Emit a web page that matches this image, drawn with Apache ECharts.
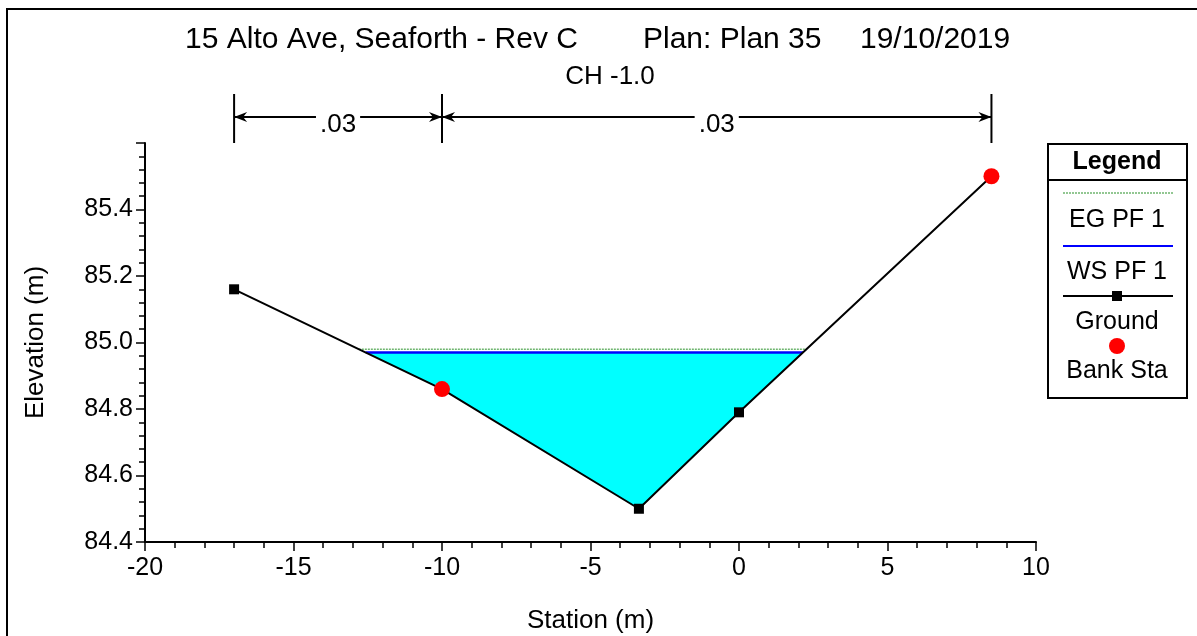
<!DOCTYPE html>
<html>
<head>
<meta charset="utf-8">
<script src="https://cdn.jsdelivr.net/npm/echarts@6/dist/echarts.min.js"></script>
<style>
  html, body { margin: 0; padding: 0; background: #fff; }
  #chart { width: 1197px; height: 636px; }
</style>
</head>
<body>
<div id="chart"></div>
<script>
// Cross section CH -1.0: ground survey points (station m, elevation m)
const groundStation = [-17, -10, -3.37, 0, 8.5];
const groundElev = [85.16, 84.86, 84.50, 84.79, 85.50];
// Bank stations
const bankStation = [-10, 8.5];
const bankElev = [84.86, 85.50];
// Profile PF 1 results
const wsElev = 84.97;
const egElev = 84.98;
// Manning's n regions
const nBreaks = [-17, -10, 8.5];
const nValues = ['.03', '.03'];

const FONT = "'Liberation Sans', Arial, sans-serif";

// stations where the ground crosses a given level
function crossings(level) {
  const out = [];
  for (let i = 0; i < groundStation.length - 1; i++) {
    const x0 = groundStation[i], y0 = groundElev[i];
    const x1 = groundStation[i + 1], y1 = groundElev[i + 1];
    if ((y0 - level) * (y1 - level) < 0) {
      const t = (level - y0) / (y1 - y0);
      out.push(x0 + t * (x1 - x0));
    }
  }
  return out;
}

const wsX = crossings(wsElev);
const egX = crossings(egElev);
const wsL = wsX[0], wsR = wsX[wsX.length - 1];

// wetted polygon: water surface down to the ground
const waterPoly = [[wsL, wsElev]];
groundStation.forEach((s, i) => {
  if (s > wsL && s < wsR) waterPoly.push([s, groundElev[i]]);
});
waterPoly.push([wsR, wsElev]);

const groundData = groundStation.map((s, i) => [s, groundElev[i]]);
const bankData = bankStation.map((s, i) => [s, bankElev[i]]);
const nData = nValues.map((v, i) => [nBreaks[i], nBreaks[i + 1], 85.6]);

const chart = echarts.init(document.getElementById('chart'), null, { renderer: 'canvas' });

const option = {
  backgroundColor: '#ffffff',
  animation: false,
  textStyle: { fontFamily: FONT, color: '#000' },
  grid: { left: 145, top: 143, width: 891, height: 399, containLabel: false, outerBoundsMode: 'none' },
  xAxis: {
    type: 'value', min: -20, max: 10, interval: 5,
    name: 'Station (m)', nameLocation: 'middle', nameGap: 66,
    nameTextStyle: { fontSize: 26, color: '#000', fontFamily: FONT },
    axisLine: { onZero: false, lineStyle: { color: '#000', width: 2 } },
    axisTick: { show: true, inside: false, length: 9, lineStyle: { color: '#000', width: 1.5 } },
    minorTick: { show: true, splitNumber: 5, length: 6, lineStyle: { color: '#000', width: 1.5 } },
    axisLabel: { fontSize: 25, color: '#000', margin: 14, fontFamily: FONT },
    splitLine: { show: false }
  },
  yAxis: {
    type: 'value', min: 84.4, max: 85.6, interval: 0.2,
    name: 'Elevation (m)', nameLocation: 'middle', nameGap: 96, nameRotate: 90,
    nameTextStyle: { fontSize: 26, color: '#000', fontFamily: FONT },
    axisLine: { onZero: false, lineStyle: { color: '#000', width: 2 } },
    axisTick: { show: true, inside: false, length: 9, lineStyle: { color: '#000', width: 1.5 } },
    minorTick: { show: true, splitNumber: 5, length: 6, lineStyle: { color: '#000', width: 1.5 } },
    axisLabel: {
      fontSize: 25, color: '#000', margin: 12, fontFamily: FONT,
      showMaxLabel: false,
      formatter: v => v.toFixed(1)
    },
    splitLine: { show: false }
  },
  series: [
    {
      name: 'Water', type: 'custom', z: 1, silent: true,
      data: [[wsL, wsElev]],
      renderItem: (params, api) => ({
        type: 'polygon',
        shape: { points: waterPoly.map(p => api.coord(p)) },
        style: { fill: '#00FFFF', stroke: null }
      })
    },
    {
      name: 'EG PF 1', type: 'line', z: 3, symbol: 'none', silent: true,
      data: [[egX[0], egElev], [egX[egX.length - 1], egElev]],
      lineStyle: { color: '#6fb56f', width: 1.5, type: [2, 1] }
    },
    {
      name: 'WS PF 1', type: 'line', z: 4, symbol: 'none', silent: true,
      data: [[wsL, wsElev], [wsR, wsElev]],
      lineStyle: { color: '#0000FF', width: 2.5 }
    },
    {
      name: 'Ground', type: 'line', z: 5, silent: true,
      data: groundData,
      symbol: 'rect', symbolSize: 10,
      itemStyle: { color: '#000' },
      lineStyle: { color: '#000', width: 2 }
    },
    {
      name: 'Bank Sta', type: 'scatter', z: 6, silent: true,
      data: bankData,
      symbol: 'circle', symbolSize: 16,
      itemStyle: { color: '#FF0000', opacity: 1 }
    },
    {
      name: 'Manning n', type: 'custom', z: 7, silent: true, clip: false,
      data: nData,
      encode: { x: [0, 1], y: 2 },
      renderItem: (params, api) => {
        const p0 = api.coord([api.value(0), 85.6]);
        const p1 = api.coord([api.value(1), 85.6]);
        const top = p0[1];
        const x0 = p0[0], x1 = p1[0];
        const ay = top - 26;
        const ls = { stroke: '#000', lineWidth: 2 };
        return {
          type: 'group',
          children: [
            { type: 'line', shape: { x1: x0, y1: top - 49, x2: x0, y2: top }, style: ls },
            { type: 'line', shape: { x1: x1, y1: top - 49, x2: x1, y2: top }, style: ls },
            { type: 'line', shape: { x1: x0, y1: ay, x2: x1, y2: ay }, style: ls },
            { type: 'polygon', shape: { points: [[x0, ay], [x0 + 13, ay - 5], [x0 + 9, ay], [x0 + 13, ay + 5]] }, style: { fill: '#000' } },
            { type: 'polygon', shape: { points: [[x1, ay], [x1 - 13, ay - 5], [x1 - 9, ay], [x1 - 13, ay + 5]] }, style: { fill: '#000' } },
            {
              type: 'text',
              x: (x0 + x1) / 2, y: ay + 8,
              style: {
                text: nValues[params.dataIndex],
                fontSize: 26, fontFamily: FONT, fill: '#000',
                align: 'center', verticalAlign: 'middle',
                backgroundColor: '#fff', padding: [0, 4]
              }
            }
          ]
        };
      }
    }
  ],
  graphic: [
    // frame
    { type: 'line', shape: { x1: 6, y1: 9, x2: 1197, y2: 9 }, style: { stroke: '#000', lineWidth: 2 } },
    { type: 'line', shape: { x1: 7, y1: 9, x2: 7, y2: 636 }, style: { stroke: '#000', lineWidth: 2 } },
    // title block
    { type: 'text', left: 185, top: 25, style: { text: '15 Alto Ave, Seaforth - Rev C', font: '30px ' + FONT, fill: '#000' } },
    { type: 'text', left: 643, top: 25, style: { text: 'Plan: Plan 35', font: '30px ' + FONT, fill: '#000' } },
    { type: 'text', left: 860, top: 25, style: { text: '19/10/2019', font: '30px ' + FONT, fill: '#000' } },
    { type: 'text', x: 610, y: 77, style: { text: 'CH -1.0', font: '26px ' + FONT, fill: '#000', align: 'center', verticalAlign: 'middle' } },
    // legend
    { type: 'rect', shape: { x: 1048, y: 144, width: 139, height: 254 }, style: { fill: '#fff', stroke: '#000', lineWidth: 2 } },
    { type: 'line', shape: { x1: 1048, y1: 180, x2: 1187, y2: 180 }, style: { stroke: '#000', lineWidth: 2 } },
    { type: 'text', x: 1117, y: 162, style: { text: 'Legend', font: 'bold 25px ' + FONT, fill: '#000', align: 'center', verticalAlign: 'middle' } },
    { type: 'line', shape: { x1: 1063, y1: 193, x2: 1173, y2: 193 }, style: { stroke: '#6fb56f', lineWidth: 1.5, lineDash: [2, 1] } },
    { type: 'text', x: 1117, y: 220, style: { text: 'EG PF 1', font: '25px ' + FONT, fill: '#000', align: 'center', verticalAlign: 'middle' } },
    { type: 'line', shape: { x1: 1063, y1: 246, x2: 1173, y2: 246 }, style: { stroke: '#0000FF', lineWidth: 2 } },
    { type: 'text', x: 1117, y: 272, style: { text: 'WS PF 1', font: '25px ' + FONT, fill: '#000', align: 'center', verticalAlign: 'middle' } },
    { type: 'line', shape: { x1: 1063, y1: 296, x2: 1173, y2: 296 }, style: { stroke: '#000', lineWidth: 2 } },
    { type: 'rect', shape: { x: 1112, y: 291, width: 10, height: 10 }, style: { fill: '#000' } },
    { type: 'text', x: 1117, y: 322, style: { text: 'Ground', font: '25px ' + FONT, fill: '#000', align: 'center', verticalAlign: 'middle' } },
    { type: 'circle', shape: { cx: 1117, cy: 346, r: 8 }, style: { fill: '#FF0000' } },
    { type: 'text', x: 1117, y: 371, style: { text: 'Bank Sta', font: '25px ' + FONT, fill: '#000', align: 'center', verticalAlign: 'middle' } }
  ]
};

chart.setOption(option);
</script>
</body>
</html>
